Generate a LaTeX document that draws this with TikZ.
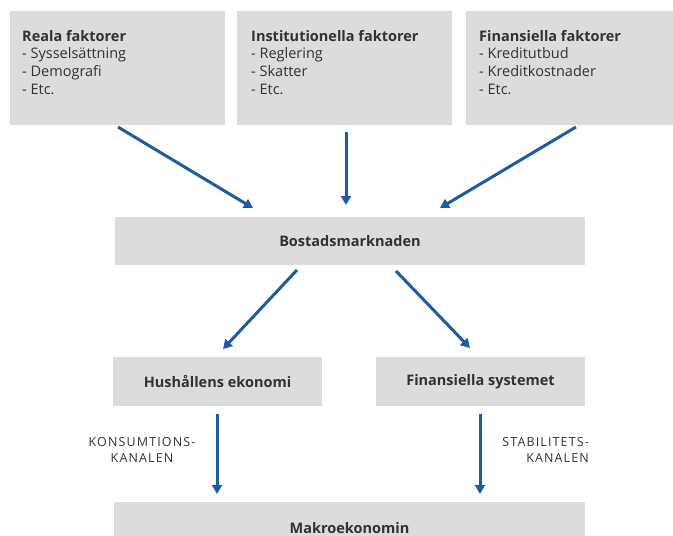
\documentclass[tikz,border=0pt]{standalone}
\usepackage{fontspec}
\setmainfont{Open Sans}
\usetikzlibrary{arrows.meta}
\definecolor{boxgray}{RGB}{220,220,220}
\definecolor{arrowblue}{RGB}{30,92,160}
\definecolor{txt}{RGB}{50,50,50}
\tikzset{
  box/.style={fill=boxgray, draw=none, inner sep=0pt},
  boxtext/.style={text=txt, font=\fontsize{14.5}{17.7}\selectfont, align=left, anchor=north west, inner sep=0pt},
  label/.style={text=txt, font=\bfseries\fontsize{14.5}{16}\selectfont},
  chanlabel/.style={text=txt, font=\fontsize{12.5}{15.5}\selectfont\addfontfeature{LetterSpace=9}, inner sep=0pt},
  flow/.style={draw=arrowblue, line width=3pt, -{Triangle[width=10pt,length=9pt]}}
}
\begin{document}
\begin{tikzpicture}[x=1pt,y=-1pt]
\useasboundingbox (0,0) rectangle (673,536);
% top boxes
\node[box, minimum width=215, minimum height=114] (real) at (117.5,68) {};
\node[box, minimum width=215, minimum height=114] (inst) at (344.5,68) {};
\node[box, minimum width=207, minimum height=114] (fin) at (569.5,68) {};
\node[boxtext] (realt) at (22,30) {\textbf{Reala faktorer}\\- Sysselsättning\\- Demografi\\- Etc.};
\node[boxtext] (instt) at (251,30) {\textbf{Institutionella faktorer}\\- Reglering\\- Skatter\\- Etc.};
\node[boxtext] (fint) at (479,30) {\textbf{Finansiella faktorer}\\- Kreditutbud\\- Kreditkostnader\\- Etc.};
% middle
\node[box, minimum width=470, minimum height=48, label] (bost) at (350,241) {Bostadsmarknaden};
\node[box, minimum width=209, minimum height=49, label] (hush) at (217.5,381.5) {Hushållens ekonomi};
\node[box, minimum width=209, minimum height=49, label] (fsys) at (480.5,381.5) {Finansiella systemet};
\node[box, minimum width=471, minimum height=56, label, text depth=0pt] (makro) at (349.5,530) {\raisebox{5pt}{Makroekonomin}};
% channel labels
\node[chanlabel, align=center] (kons) at (142,450) {KONSUMTIONS-\\KANALEN};
\node[chanlabel, align=right, anchor=east] (stab) at (589,450) {STABILITETS-\\KANALEN};
% arrow end points
\coordinate (a1s) at (118,127); \coordinate (a1e) at (253,208);
\coordinate (a2s) at (346,132); \coordinate (a2e) at (346,205);
\coordinate (a3s) at (576,127); \coordinate (a3e) at (440,208);
\coordinate (a4s) at (297,270); \coordinate (a4e) at (223,349);
\coordinate (a5s) at (396,271); \coordinate (a5e) at (470,348);
\coordinate (a6s) at (217,414); \coordinate (a6e) at (217,494);
\coordinate (a7s) at (480,414); \coordinate (a7e) at (480,494);
\draw[flow] (a1s) -- (a1e);
\draw[flow] (a2s) -- (a2e);
\draw[flow] (a3s) -- (a3e);
\draw[flow] (a4s) -- (a4e);
\draw[flow] (a5s) -- (a5e);
\draw[flow] (a6s) -- (a6e);
\draw[flow] (a7s) -- (a7e);
\end{tikzpicture}
\end{document}
